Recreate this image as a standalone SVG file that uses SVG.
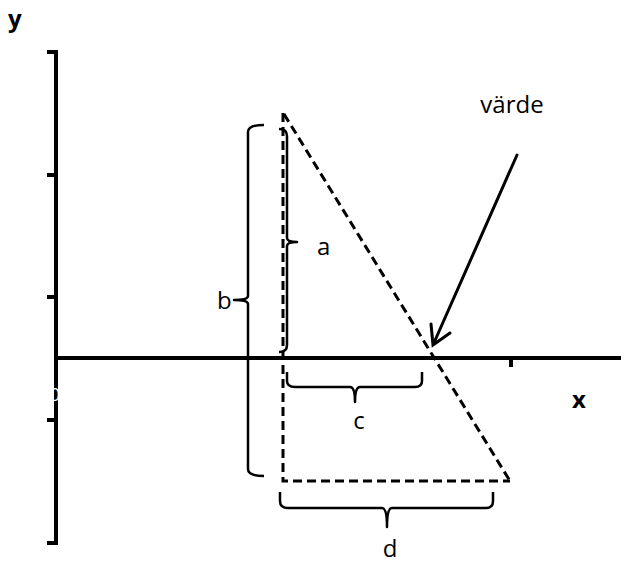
<svg xmlns="http://www.w3.org/2000/svg" width="621" height="563" viewBox="0 0 621 563">
<style>
.axis{fill:none;stroke:#000;stroke-width:4;stroke-linecap:butt}
.dash{fill:none;stroke:#000;stroke-width:3;stroke-dasharray:9 5}
.brace{fill:none;stroke:#000;stroke-width:2.5;stroke-linejoin:round}
.arrow{fill:none;stroke:#000;stroke-width:3;stroke-linecap:round;stroke-linejoin:miter}
.lbl{font-family:"Open Sans","DejaVu Sans",sans-serif;font-size:24px;fill:#000}
.axl{font-family:"Open Sans","DejaVu Sans",sans-serif;font-size:24px;font-weight:bold;fill:#000}
</style>
<rect width="621" height="563" fill="#fff"/>
<g id="axes">
<path class="axis" d="M47,52 H56 V543 H47 M47,175 H56 M47,297 H56 M47,420 H56"/>
<path class="axis" d="M56,358 H621 M511,358 V367"/>
<text x="55" y="401" text-anchor="middle" style="font-family:'Open Sans',sans-serif;font-size:18px;fill:#fff">0</text>
</g>
<g id="triangle">
<path class="dash" d="M283,113 V481 H510"/>
<path class="dash" d="M284,114 L510,481"/>
</g>
<g id="brace-a">
<path class="brace" d="M279,129 Q287,129 287,136 L287,238 Q287,242 297,242 Q287,242 287,246 L287,345 Q287,352 279,352"/>
<text class="lbl" x="317" y="255">a</text>
</g>
<g id="brace-b">
<path class="brace" d="M264,125 Q248,125 248,132 L248,296 Q248,300 234,300 Q248,300 248,304 L248,469 Q248,476 264,476"/>
<text class="lbl" x="217" y="309">b</text>
</g>
<g id="brace-c">
<path class="brace" d="M287,372 L287,381 Q287,387 295,387 L350,387 Q355,387 355,402 Q355,387 360,387 L415,387 Q422,387 422,381 L422,372"/>
<text class="lbl" x="359" y="429" text-anchor="middle">c</text>
</g>
<g id="brace-d">
<path class="brace" d="M280,492 L280,501 Q280,508 288,508 L382,508 Q387,508 387,527 Q387,508 392,508 L486,508 Q493,508 493,501 L493,492"/>
<text class="lbl" x="390" y="557" text-anchor="middle">d</text>
</g>
<g id="connectors">
<path class="arrow" d="M517,155 L433,345 M431,324 L433,345 L450,333"/>
</g>
<g id="labels">
<text class="lbl" x="512" y="113" text-anchor="middle">värde</text>
<text class="axl" x="8" y="27">y</text>
<text class="axl" x="572" y="408">x</text>
</g>
</svg>
